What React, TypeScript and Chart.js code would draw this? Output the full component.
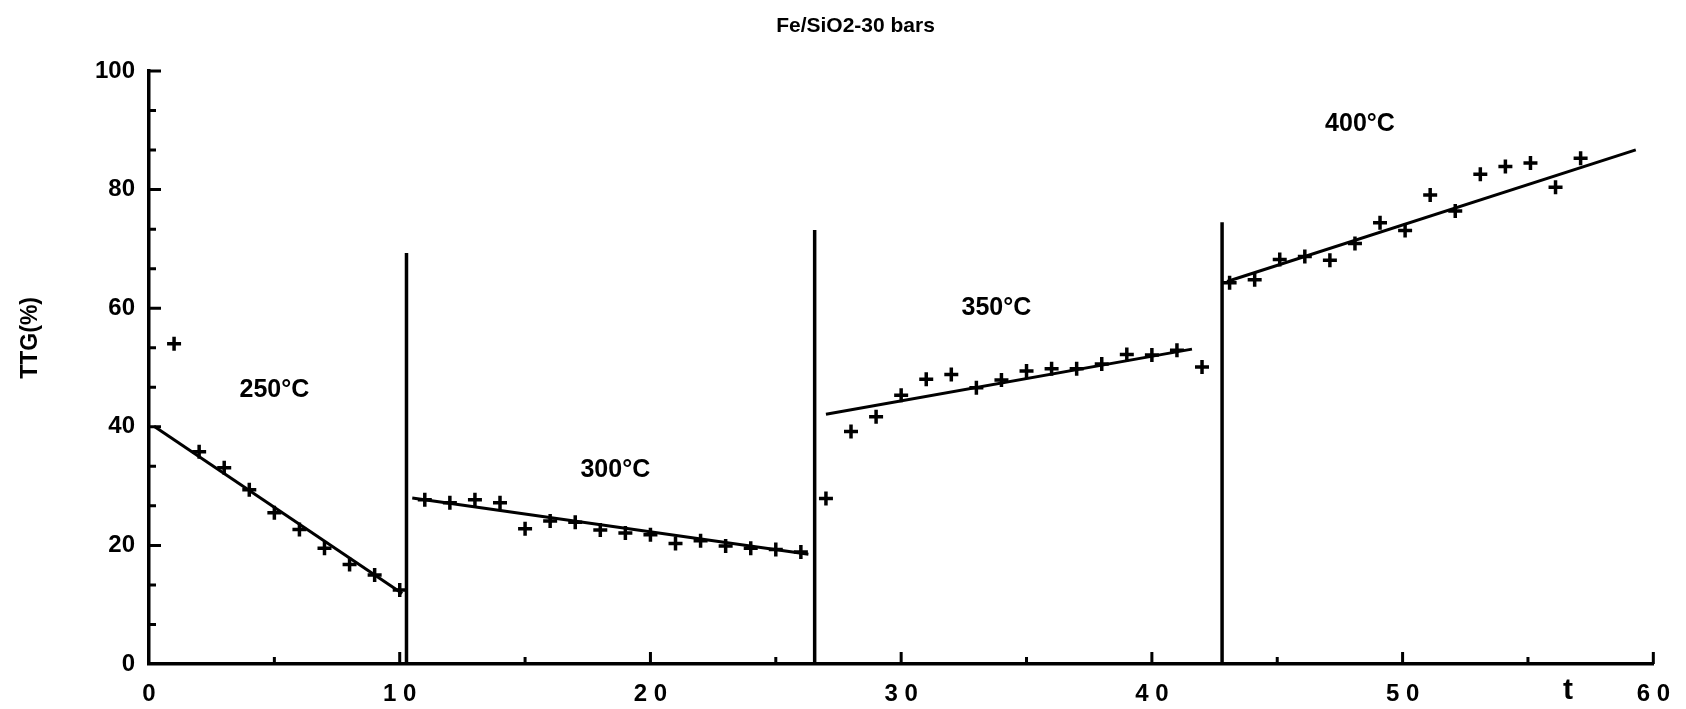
import React, { useEffect, useRef } from 'react';
import { Chart, registerables } from 'chart.js';

Chart.register(...registerables);

const FONT = "'Liberation Sans', Arial, Helvetica, sans-serif";

// Title and axis texts
const chartTitle = 'Fe/SiO2-30 bars';
const yAxisTitle = 'TTG(%)';
const xAxisTitle = 't';

// Measured points (+ markers) for each temperature step
const t250X = [1, 2, 3, 4, 5, 6, 7, 8, 9, 10];
const t250Y = [54.0, 35.8, 33.1, 29.4, 25.5, 22.7, 19.5, 16.8, 15.0, 12.5];

const t300X = [11, 12, 13, 14, 15, 16, 17, 18, 19, 20, 21, 22, 23, 24, 25, 26];
const t300Y = [27.7, 27.2, 27.7, 27.2, 22.8, 24.1, 23.9, 22.6, 22.1, 21.8, 20.3, 20.8, 19.9, 19.5, 19.3, 18.9];

const t350X = [27, 28, 29, 30, 31, 32, 33, 34, 35, 36, 37, 38, 39, 40, 41, 42];
const t350Y = [27.9, 39.2, 41.7, 45.3, 48.0, 48.8, 46.6, 47.9, 49.4, 49.8, 49.8, 50.6, 52.2, 52.1, 52.9, 50.1];

const t400X = [43.1, 44.1, 45.1, 46.1, 47.1, 48.1, 49.1, 50.1, 51.1, 52.1, 53.1, 54.1, 55.1, 56.1, 57.1];
const t400Y = [64.3, 64.8, 68.2, 68.7, 68.1, 70.9, 74.4, 73.1, 79.1, 76.4, 82.6, 83.9, 84.5, 80.4, 85.3];

// Fitted straight lines (start / end)
const fit250X = [0.2, 10.1];
const fit250Y = [40.1, 11.9];
const fit300X = [10.5, 26.3];
const fit300Y = [28.0, 18.5];
const fit350X = [27.0, 41.6];
const fit350Y = [42.1, 53.1];
const fit400X = [43.0, 59.3];
const fit400Y = [64.5, 86.7];

// Vertical separators between temperature steps
const dividerX = [10.27, 26.55, 42.8];
const dividerTop = [69.3, 73.2, 74.5];

// Temperature annotations
const tempLabels = ['250°C', '300°C', '350°C', '400°C'];
const tempLabelX = [5.0, 18.6, 33.8, 48.3];
const tempLabelY = [46.2, 32.7, 60.0, 91.0];

// Axis ticks
const xMajorTicks = [10, 20, 30, 40, 50, 60];
const xMinorTicks = [5, 15, 25, 35, 45, 55];
const yMajorTicks = [20, 40, 60, 80, 100];
const yMinorTicks = [20 / 3, 40 / 3, 80 / 3, 100 / 3, 140 / 3, 160 / 3, 200 / 3, 220 / 3, 260 / 3, 280 / 3];

const toPts = (xs: number[], ys: number[]) => xs.map((x, i) => ({ x, y: ys[i] }));

const App = () => {
  const ref = useRef<HTMLCanvasElement | null>(null);

  useEffect(() => {
    document.body.style.margin = '0';
    document.body.style.overflow = 'hidden';
    const canvas = ref.current;
    if (!canvas) return;

    const pointSets = [
      [t250X, t250Y],
      [t300X, t300Y],
      [t350X, t350Y],
      [t400X, t400Y],
    ].map(([xs, ys]) => ({
      data: toPts(xs, ys),
      showLine: false,
      pointStyle: 'cross',
      pointRadius: 7,
      pointHoverRadius: 7,
      pointBorderWidth: 3.5,
      borderColor: '#000',
      backgroundColor: '#000',
    }));

    const lineSets = [
      [fit250X, fit250Y],
      [fit300X, fit300Y],
      [fit350X, fit350Y],
      [fit400X, fit400Y],
    ].map(([xs, ys]) => ({
      data: toPts(xs, ys),
      showLine: true,
      pointRadius: 0,
      pointHoverRadius: 0,
      borderWidth: 3,
      borderColor: '#000',
      fill: false,
    }));

    const dividerSets = dividerX.map((x, i) => ({
      data: [
        { x, y: 0 },
        { x, y: dividerTop[i] },
      ],
      showLine: true,
      pointRadius: 0,
      pointHoverRadius: 0,
      borderWidth: 3.5,
      borderColor: '#000',
      fill: false,
    }));

    const annot = {
      id: 'annot',
      afterDatasetsDraw(chart: any) {
        const { ctx, scales, chartArea } = chart;
        const xs = scales.x;
        const ys = scales.y;
        ctx.save();
        ctx.strokeStyle = '#000';
        ctx.lineWidth = 3;
        ctx.beginPath();
        yMajorTicks.forEach((v) => {
          const p = ys.getPixelForValue(v);
          ctx.moveTo(chartArea.left, p);
          ctx.lineTo(chartArea.left + 12, p);
        });
        yMinorTicks.forEach((v) => {
          const p = ys.getPixelForValue(v);
          ctx.moveTo(chartArea.left, p);
          ctx.lineTo(chartArea.left + 7, p);
        });
        xMajorTicks.forEach((v) => {
          const p = xs.getPixelForValue(v);
          ctx.moveTo(p, chartArea.bottom);
          ctx.lineTo(p, chartArea.bottom - 12);
        });
        xMinorTicks.forEach((v) => {
          const p = xs.getPixelForValue(v);
          ctx.moveTo(p, chartArea.bottom);
          ctx.lineTo(p, chartArea.bottom - 7);
        });
        ctx.stroke();

        ctx.fillStyle = '#000';
        ctx.textAlign = 'center';
        ctx.textBaseline = 'middle';
        ctx.font = `bold 25px ${FONT}`;
        tempLabels.forEach((t, i) => {
          ctx.fillText(t, xs.getPixelForValue(tempLabelX[i]), ys.getPixelForValue(tempLabelY[i]));
        });

        ctx.font = `bold 30px ${FONT}`;
        ctx.fillText(xAxisTitle, xs.getPixelForValue(56.6), chartArea.bottom + 27);

        ctx.font = `bold 23px ${FONT}`;
        ctx.translate(31, ys.getPixelForValue(55));
        ctx.rotate(-Math.PI / 2);
        ctx.fillText(yAxisTitle, 0, 0);
        ctx.restore();
      },
    };

    const chart = new Chart(canvas, {
      type: 'scatter',
      data: { datasets: [...pointSets, ...lineSets, ...dividerSets] as any },
      options: {
        responsive: false,
        animation: false,
        layout: { padding: { left: 48, right: 23, top: 0, bottom: 0 } },
        plugins: {
          legend: { display: false },
          tooltip: { enabled: false },
          title: {
            display: true,
            text: chartTitle,
            color: '#000',
            font: { family: FONT, size: 21, weight: 'bold' },
            padding: { top: 14, bottom: 31.8 },
          },
        },
        scales: {
          x: {
            type: 'linear',
            min: 0,
            max: 60,
            afterFit: (s: any) => {
              s.height = 45;
            },
            grid: { display: true, drawOnChartArea: false, drawTicks: false },
            border: { display: true, color: '#000', width: 3.5 },
            ticks: {
              stepSize: 10,
              padding: 16,
              maxRotation: 0,
              color: '#000',
              font: { family: FONT, size: 24, weight: 'bold' },
              callback: (v: any) => String(v).split('').join(' '),
            },
          },
          y: {
            type: 'linear',
            min: 0,
            max: 100,
            afterFit: (s: any) => {
              s.width = 101;
            },
            grid: { display: true, drawOnChartArea: false, drawTicks: false },
            border: { display: true, color: '#000', width: 3.5 },
            ticks: {
              stepSize: 20,
              padding: 14,
              color: '#000',
              font: { family: FONT, size: 24, weight: 'bold' },
            },
          },
        },
      } as any,
      plugins: [annot],
    });

    return () => chart.destroy();
  }, []);

  return (
    <div style={{ width: 1686, height: 709, background: '#fff' }}>
      <canvas ref={ref} width={1686} height={709} style={{ display: 'block' }} />
    </div>
  );
};

export default App;
